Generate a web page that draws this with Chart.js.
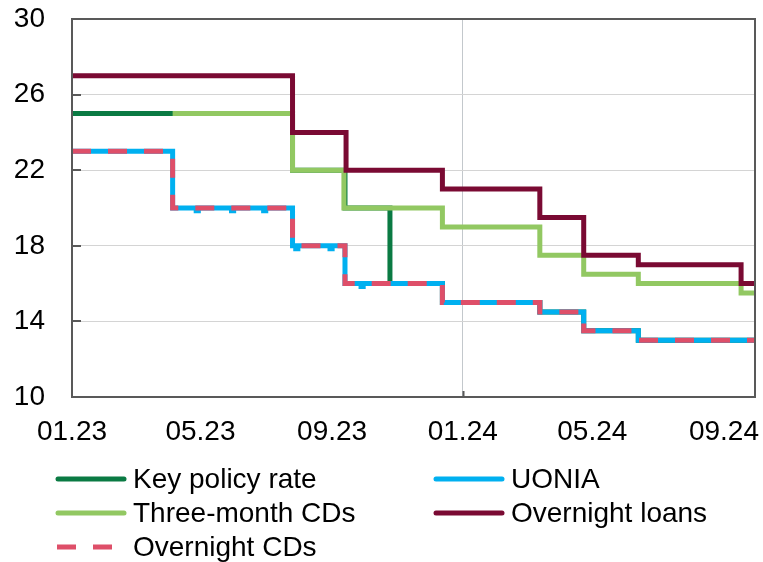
<!DOCTYPE html>
<html>
<head>
<meta charset="utf-8">
<script src="https://cdn.jsdelivr.net/npm/chart.js@4/dist/chart.umd.min.js"></script>
<style>
  html, body { margin: 0; padding: 0; background: #ffffff; }
  #wrap { position: relative; width: 763px; height: 562px; overflow: hidden; }
  #c { position: absolute; left: 0; top: 0; }
  .lg-item { position: absolute; height: 34px; display: flex; align-items: center; white-space: nowrap;
             font-family: "Liberation Sans", Arial, sans-serif; font-size: 28px; color: #000; }
  .lg-item svg { display: block; margin-right: 6px; }
</style>
</head>
<body>
<div id="wrap">
  <canvas id="c" width="763" height="562"></canvas>
  <div id="legend"></div>
</div>
<script>
// ---------- DATA ----------
const axisStart = '2023-01-01';
const axisEnd = '2024-09-30';
const tickDates = ['2023-01-01', '2023-05-01', '2023-09-01', '2024-01-01', '2024-05-01', '2024-09-01'];
const tickLabels = ['01.23', '05.23', '09.23', '01.24', '05.24', '09.24'];
const gridDates = ['2024-01-01'];
const yTickValues = [10, 14, 18, 22, 26, 30];

const keyRateDates  = ['2023-01-01', '2023-07-26', '2023-09-13', '2023-10-25', '2023-12-13', '2024-03-13', '2024-04-23', '2024-06-13', '2024-09-30'];
const keyRateValues = [25, 22, 20, 16, 15, 14.5, 13.5, 13, 13];

const threeMonthDates  = ['2023-04-05', '2023-07-26', '2023-09-12', '2023-12-13', '2024-03-13', '2024-04-23', '2024-06-13', '2024-09-17', '2024-09-30'];
const threeMonthValues = [25, 22, 20, 19, 17.5, 16.5, 16, 15.5, 15.5];

const uoniaDates  = ['2023-01-01', '2023-04-05', '2023-04-27', '2023-04-29', '2023-05-30', '2023-06-01', '2023-06-29', '2023-07-01',
                     '2023-07-26', '2023-07-29', '2023-07-31', '2023-08-30', '2023-09-01', '2023-09-13', '2023-09-28', '2023-09-30',
                     '2023-12-13', '2024-03-13', '2024-04-23', '2024-06-13', '2024-09-30'];
const uoniaValues = [23, 20, 19.85, 20, 19.85, 20, 19.85, 20,
                     18, 17.85, 18, 17.85, 18, 16, 15.85, 16,
                     15, 14.5, 13.5, 13, 13];

const overnightLoanDates  = ['2023-01-01', '2023-07-26', '2023-09-14', '2023-12-13', '2024-03-13', '2024-04-23', '2024-06-13', '2024-09-17', '2024-09-30'];
const overnightLoanValues = [27, 24, 22, 21, 19.5, 17.5, 17, 16, 16];

const overnightCDDates  = ['2023-01-01', '2023-04-05', '2023-07-26', '2023-09-13', '2023-12-13', '2024-03-13', '2024-04-23', '2024-06-13', '2024-09-30'];
const overnightCDValues = [23, 20, 18, 16, 15, 14.5, 13.5, 13, 13];

// ---------- HELPERS ----------
const DAY = 86400000;
const base = Date.parse(axisStart + 'T00:00:00Z');
function dayIndex(s) { return (Date.parse(s + 'T00:00:00Z') - base) / DAY; }
function pts(dates, vals) { return dates.map((d, i) => ({ x: dayIndex(d), y: vals[i] })); }

const COLORS = {
  key: '#0A7A43',
  three: '#92C862',
  uonia: '#00B0F0',
  loans: '#7A0A33',
  ocd: '#DE4F69'
};

const datasets = [
  { label: 'Key policy rate', data: pts(keyRateDates, keyRateValues), borderColor: COLORS.key, order: 5 },
  { label: 'UONIA', data: pts(uoniaDates, uoniaValues), borderColor: COLORS.uonia, order: 3 },
  { label: 'Three-month CDs', data: pts(threeMonthDates, threeMonthValues), borderColor: COLORS.three, order: 4 },
  { label: 'Overnight loans', data: pts(overnightLoanDates, overnightLoanValues), borderColor: COLORS.loans, order: 2 },
  { label: 'Overnight CDs', data: pts(overnightCDDates, overnightCDValues), borderColor: COLORS.ocd, borderDash: [19, 17], order: 1 }
].map(ds => Object.assign({
  stepped: true, borderWidth: 5, pointRadius: 0, pointHoverRadius: 0, fill: false,
  backgroundColor: ds.borderColor, borderCapStyle: 'butt', borderJoinStyle: 'miter'
}, ds));

const gridDays = gridDates.map(dayIndex);

const framePlugin = {
  id: 'frame',
  afterDraw(chart) {
    const { ctx, chartArea: a, scales } = chart;
    ctx.save();
    ctx.strokeStyle = '#595959';
    ctx.lineWidth = 2;
    ctx.strokeRect(a.left, a.top, a.right - a.left, a.bottom - a.top);
    ctx.beginPath();
    yTickValues.forEach(v => {
      const py = Math.round(scales.y.getPixelForValue(v));
      ctx.moveTo(a.left, py); ctx.lineTo(a.left + 9, py);
    });
    gridDays.forEach(d => {
      const px = Math.round(scales.x.getPixelForValue(d)) + 0.5;
      ctx.moveTo(px, a.bottom); ctx.lineTo(px, a.bottom - 6);
    });
    ctx.stroke();
    ctx.restore();
  }
};

const FONT = { family: '"Liberation Sans", Arial, sans-serif', size: 28 };
const CLEAR = 'rgba(0,0,0,0)';

const chart = new Chart(document.getElementById('c'), {
  type: 'line',
  data: { datasets },
  options: {
    responsive: false,
    animation: false,
    devicePixelRatio: 1,
    layout: { padding: { left: 0, right: 8, top: 19, bottom: 0 } },
    plugins: { legend: { display: false }, tooltip: { enabled: false } },
    scales: {
      x: {
        type: 'linear',
        min: dayIndex(axisStart),
        max: dayIndex(axisEnd),
        afterBuildTicks: s => { s.ticks = tickDates.map(d => ({ value: dayIndex(d) })); },
        afterFit: s => { s.height = 165; },
        ticks: {
          autoSkip: false, maxRotation: 0, minRotation: 0, padding: 0,
          color: '#000', font: FONT,
          callback: v => { const i = tickDates.findIndex(d => dayIndex(d) === v); return i >= 0 ? tickLabels[i] : ''; }
        },
        grid: {
          drawTicks: true, tickLength: 18, tickColor: CLEAR, lineWidth: 1,
          color: c => (c.tick && gridDays.includes(c.tick.value)) ? '#C3C8CC' : CLEAR
        },
        border: { display: true, color: '#595959', width: 2 }
      },
      y: {
        min: 10, max: 30,
        afterBuildTicks: s => { s.ticks = yTickValues.map(v => ({ value: v })); },
        afterFit: s => { s.width = 72; },
        ticks: { padding: 0, color: '#000', font: FONT, callback: v => String(v) },
        grid: { drawTicks: true, tickLength: 27, tickColor: CLEAR, lineWidth: 1, color: '#D4D4D4' },
        border: { display: true, color: '#595959', width: 2 }
      }
    }
  },
  plugins: [framePlugin]
});

// ---------- HTML LEGEND (built from the chart's datasets) ----------
const legendEl = document.getElementById('legend');
const colX = [55, 433];
const rowY = [479, 513, 547];
chart.data.datasets.forEach((ds, i) => {
  const col = i % 2, row = Math.floor(i / 2);
  const item = document.createElement('div');
  item.className = 'lg-item';
  item.style.left = colX[col] + 'px';
  item.style.top = (rowY[row] - 17) + 'px';
  const dash = ds.borderDash ? ` stroke-dasharray="${ds.borderDash.join(' ')}"` : '';
  const cap = ds.borderDash ? 'butt' : 'round';
  item.innerHTML = `<svg width="72" height="10"><line x1="${ds.borderDash ? 2 : 3}" y1="5" x2="69" y2="5" stroke="${ds.borderColor}" stroke-width="5" stroke-linecap="${cap}"${dash}/></svg><span>${ds.label}</span>`;
  legendEl.appendChild(item);
});
</script>
</body>
</html>
